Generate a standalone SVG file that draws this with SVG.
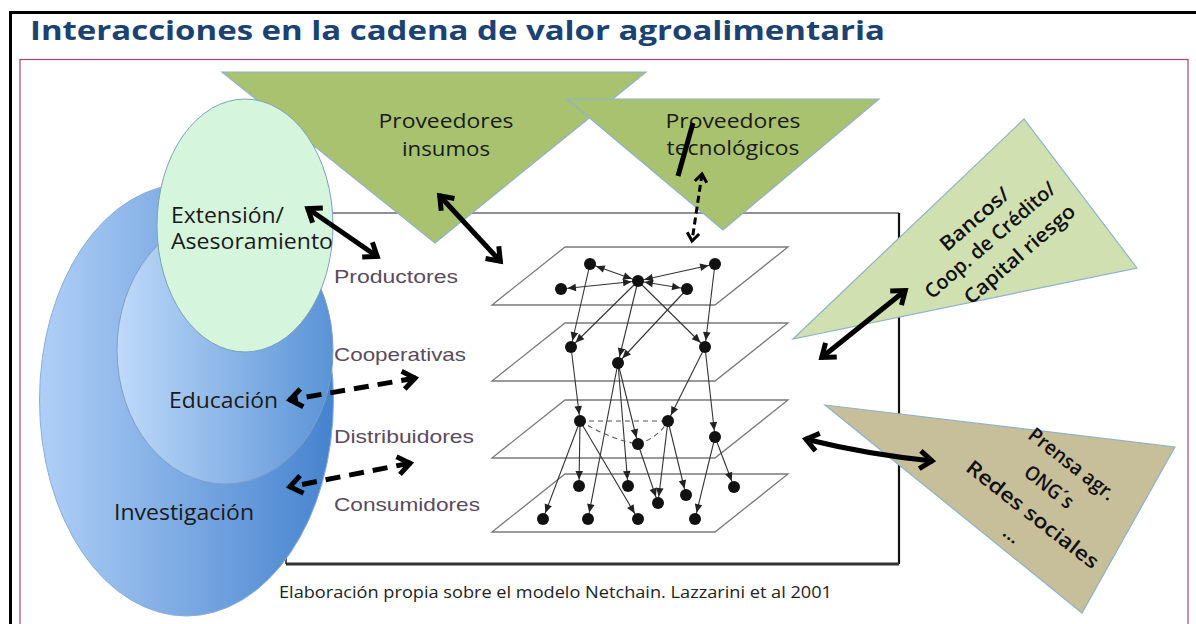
<svg xmlns="http://www.w3.org/2000/svg" width="1196" height="624" viewBox="0 0 1196 624">
<defs>
  <linearGradient id="gBig" x1="0" y1="0" x2="1" y2="0">
    <stop offset="0" stop-color="#b0cff6"/>
    <stop offset="1" stop-color="#4683ce"/>
  </linearGradient>
  <linearGradient id="gMid" x1="0" y1="0" x2="1" y2="0">
    <stop offset="0" stop-color="#bfdaf9"/>
    <stop offset="1" stop-color="#5a93d6"/>
  </linearGradient>
  <marker id="chev" markerUnits="userSpaceOnUse" orient="auto-start-reverse" overflow="visible" markerWidth="20" markerHeight="20" refX="0" refY="0">
    <path d="M-13,-9 L-1,0 L-13,9" fill="none" stroke="#000" stroke-width="5" stroke-dasharray="none"/>
  </marker>
  <marker id="chevs" markerUnits="userSpaceOnUse" orient="auto-start-reverse" overflow="visible" markerWidth="12" markerHeight="12" refX="0" refY="0">
    <path d="M-8,-6 L0,0 L-8,6" fill="none" stroke="#000" stroke-width="3" stroke-dasharray="none"/>
  </marker>
  <marker id="ah" markerUnits="userSpaceOnUse" orient="auto-start-reverse" overflow="visible" markerWidth="10" markerHeight="10" refX="0" refY="0">
    <path d="M-15,-3.8 L-6.5,0 L-15,3.8 z" fill="#222" stroke="none"/>
  </marker>
</defs>
<style>
  .ttl{font-family:"Open Sans","Liberation Sans",sans-serif;font-weight:700;font-size:27px;fill:#1c4272}
  .cal{font-family:"Open Sans","Liberation Sans",sans-serif;font-size:21px;fill:#1a1a1a}
  .calb{font-family:"Open Sans","Liberation Sans",sans-serif;font-size:20px;font-weight:600;fill:#111}
  .lvl{font-family:"Liberation Sans",Arial,sans-serif;font-size:18.5px;fill:#5b4a5d}
  .src{font-family:"Open Sans","Liberation Sans",sans-serif;font-size:16px;fill:#222}
  .tri{stroke:#8fb2c9;stroke-width:1.2}
  .plane{fill:none;stroke:#7a7a7a;stroke-width:1.3}
  .e{fill:none;stroke:#333;stroke-width:1.1}
  .e1{marker-end:url(#ah)}
  .e2{marker-start:url(#ah);marker-end:url(#ah)}
  .dash{fill:none;stroke:#555;stroke-width:1.1;stroke-dasharray:5 4}
  .nd{fill:#111}
  .big{fill:none;stroke:#000;stroke-width:5;marker-start:url(#chev);marker-end:url(#chev)}
  .bigd{fill:none;stroke:#000;stroke-width:5;stroke-dasharray:15 9;marker-start:url(#chev);marker-end:url(#chev)}
</style>

<rect x="0" y="0" width="1196" height="624" fill="#ffffff"/>

<g id="frame">
  <path d="M10.5,624 V12.5 H1196" fill="none" stroke="#000" stroke-width="3"/>
  <rect x="20" y="59.5" width="1168" height="580" fill="none" stroke="#a0457e" stroke-width="1.2"/>
</g>

<g id="title">
  <text class="ttl" x="30" y="40" textLength="855" lengthAdjust="spacingAndGlyphs">Interacciones en la cadena de valor agroalimentaria</text>
</g>

<g id="netchain-frame">
  <path d="M286,213 H899" fill="none" stroke="#222" stroke-width="1.2"/>
  <path d="M899,213 V564" fill="none" stroke="#111" stroke-width="2.2"/>
  <path d="M286,564 H899" fill="none" stroke="#333" stroke-width="3"/>
  <path d="M286,213 V564" fill="none" stroke="#222" stroke-width="1.5"/>
</g>

<g id="netchain">
  <polygon class="plane" points="565,247 788,247 715,305 492,305"/>
  <polygon class="plane" points="565,323 788,323 715,381 492,381"/>
  <polygon class="plane" points="565,400 788,400 715,458 492,458"/>
  <polygon class="plane" points="565,474 788,474 715,532 492,532"/>

  <g id="net-edges">
    <line class="e e2" x1="590" y1="264" x2="638" y2="281"/>
    <line class="e e2" x1="715" y1="264" x2="638" y2="281"/>
    <line class="e e2" x1="561" y1="289" x2="638" y2="281"/>
    <line class="e e2" x1="687" y1="289" x2="638" y2="281"/>

    <line class="e e1" x1="590" y1="264" x2="571" y2="347"/>
    <line class="e e1" x1="638" y1="281" x2="571" y2="347"/>
    <line class="e e1" x1="638" y1="281" x2="618" y2="363"/>
    <line class="e e1" x1="687" y1="289" x2="618" y2="363"/>
    <line class="e e1" x1="638" y1="281" x2="705" y2="347"/>
    <line class="e e1" x1="715" y1="264" x2="705" y2="347"/>

    <line class="e e1" x1="571" y1="347" x2="580" y2="421"/>
    <line class="e e1" x1="705" y1="347" x2="668" y2="421"/>
    <line class="e e1" x1="705" y1="347" x2="715" y2="437"/>
    <line class="e e1" x1="618" y1="363" x2="638" y2="444"/>
    <line class="e e1" x1="618" y1="363" x2="628" y2="486"/>
    <line class="e e1" x1="618" y1="363" x2="588" y2="519"/>

    <line class="e e1" x1="580" y1="421" x2="579" y2="486"/>
    <line class="e e1" x1="580" y1="421" x2="543" y2="519"/>
    <line class="e e1" x1="580" y1="421" x2="638" y2="519"/>
    <line class="e e1" x1="638" y1="444" x2="658" y2="503"/>
    <line class="e e1" x1="668" y1="421" x2="658" y2="503"/>
    <line class="e e1" x1="668" y1="421" x2="686" y2="495"/>
    <line class="e e1" x1="715" y1="437" x2="734" y2="487"/>
    <line class="e e1" x1="715" y1="437" x2="695" y2="519"/>

    <line class="dash" x1="580" y1="421" x2="668" y2="421"/>
    <path class="dash" d="M580,421 Q612,440 638,444"/>
    <path class="dash" d="M638,444 Q658,438 668,421"/>
  </g>

  <g id="net-nodes">
    <circle class="nd" cx="590" cy="264" r="6"/>
    <circle class="nd" cx="715" cy="264" r="6"/>
    <circle class="nd" cx="638" cy="281" r="6"/>
    <circle class="nd" cx="561" cy="289" r="6"/>
    <circle class="nd" cx="687" cy="289" r="6"/>
    <circle class="nd" cx="571" cy="347" r="6"/>
    <circle class="nd" cx="618" cy="363" r="6"/>
    <circle class="nd" cx="705" cy="347" r="6"/>
    <circle class="nd" cx="580" cy="421" r="6"/>
    <circle class="nd" cx="668" cy="421" r="6"/>
    <circle class="nd" cx="638" cy="444" r="6"/>
    <circle class="nd" cx="715" cy="437" r="6"/>
    <circle class="nd" cx="579" cy="486" r="6"/>
    <circle class="nd" cx="628" cy="486" r="6"/>
    <circle class="nd" cx="658" cy="503" r="6"/>
    <circle class="nd" cx="686" cy="495" r="6"/>
    <circle class="nd" cx="734" cy="487" r="6"/>
    <circle class="nd" cx="543" cy="519" r="6"/>
    <circle class="nd" cx="588" cy="519" r="6"/>
    <circle class="nd" cx="638" cy="519" r="6"/>
    <circle class="nd" cx="695" cy="519" r="6"/>
  </g>
</g>

<g id="level-labels">
  <text class="lvl" x="334" y="283" textLength="124" lengthAdjust="spacingAndGlyphs">Productores</text>
  <text class="lvl" x="334" y="361" textLength="132" lengthAdjust="spacingAndGlyphs">Cooperativas</text>
  <text class="lvl" x="334" y="443" textLength="140" lengthAdjust="spacingAndGlyphs">Distribuidores</text>
  <text class="lvl" x="334" y="511" textLength="146" lengthAdjust="spacingAndGlyphs">Consumidores</text>
</g>

<g id="proveedores-insumos">
  <polygon class="tri" points="222,72 646,72 435,243" fill="#a8c26f"/>
  <text class="cal" x="446" y="128" text-anchor="middle" textLength="135" lengthAdjust="spacingAndGlyphs" style="font-size:20px">Proveedores</text>
  <text class="cal" x="446" y="156" text-anchor="middle" textLength="88" lengthAdjust="spacingAndGlyphs" style="font-size:20px">insumos</text>
</g>

<g id="proveedores-tecnologicos">
  <polygon class="tri" points="567,99 879,99 723,230" fill="#a8c26f"/>
  <text class="cal" x="733" y="128" text-anchor="middle" textLength="135" lengthAdjust="spacingAndGlyphs" style="font-size:20px">Proveedores</text>
  <text class="cal" x="733" y="155" text-anchor="middle" textLength="133" lengthAdjust="spacingAndGlyphs" style="font-size:20px">tecnológicos</text>
</g>

<g id="investigacion">
  <ellipse cx="186.5" cy="400" rx="147" ry="216" fill="url(#gBig)" stroke="#8aaedb" stroke-width="1"/>
  <text class="cal" x="114" y="520" textLength="140" lengthAdjust="spacingAndGlyphs" fill="#16202e">Investigación</text>
</g>

<g id="educacion">
  <ellipse cx="225" cy="350" rx="108" ry="134" fill="url(#gMid)" stroke="#7f9fc8" stroke-width="1"/>
  <text class="cal" x="169" y="408" textLength="109" lengthAdjust="spacingAndGlyphs">Educación</text>
</g>

<g id="extension">
  <ellipse cx="245" cy="225.5" rx="88" ry="126.5" fill="#d5f5dc" stroke="#7aa3b9" stroke-width="1"/>
  <text class="cal" x="171" y="223" textLength="113" lengthAdjust="spacingAndGlyphs">Extensión/</text>
  <text class="cal" x="171" y="249" textLength="162" lengthAdjust="spacingAndGlyphs">Asesoramiento</text>
</g>

<g id="bancos">
  <polygon class="tri" points="793,339 1024,119 1137,268" fill="#d0e0b1"/>
  <g transform="translate(990,240) rotate(-41)">
    <text class="calb" x="2" y="-26" dy="0.35em" text-anchor="middle" textLength="85" lengthAdjust="spacingAndGlyphs">Bancos/</text>
    <text class="calb" x="0" y="0" dy="0.35em" text-anchor="middle" textLength="166" lengthAdjust="spacingAndGlyphs">Coop. de Crédito/</text>
    <text class="calb" x="13" y="30" dy="0.35em" text-anchor="middle" textLength="140" lengthAdjust="spacingAndGlyphs">Capital riesgo</text>
  </g>
</g>

<g id="prensa">
  <polygon class="tri" points="825,405 1175,447 1082,613" fill="#c7be9a"/>
  <g transform="translate(1072,464) rotate(38)">
    <text class="calb" x="0" y="0" dy="0.35em" text-anchor="middle" textLength="104" lengthAdjust="spacingAndGlyphs">Prensa agr.</text>
    <text class="calb" x="-4" y="32" dy="0.35em" text-anchor="middle" textLength="57" lengthAdjust="spacingAndGlyphs">ONG´s</text>
    <text class="calb" x="0" y="64" dy="0.35em" text-anchor="middle" textLength="162" lengthAdjust="spacingAndGlyphs">Redes sociales</text>
    <text class="calb" x="-4" y="92" dy="0.35em" text-anchor="middle">…</text>
  </g>
</g>

<g id="source">
  <text class="src" x="279" y="598" textLength="553" lengthAdjust="spacingAndGlyphs">Elaboración propia sobre el modelo Netchain. Lazzarini et al 2001</text>
</g>

<g id="connectors">
  <line class="big" x1="307" y1="208" x2="378" y2="257"/>
  <line class="big" x1="439" y1="195" x2="501" y2="262"/>
  <line class="big" stroke-width="4" x1="906" y1="290" x2="821" y2="358"/>
  <path class="big" stroke-width="4.5" d="M805,439 Q870,455 933,461"/>
  <line class="bigd" x1="416" y1="378" x2="289" y2="400"/>
  <line class="bigd" x1="411" y1="463" x2="289" y2="487"/>
  <line x1="693" y1="123" x2="678" y2="176" stroke="#000" stroke-width="5"/>
  <line x1="702" y1="174" x2="692" y2="241" stroke="#000" stroke-width="3" stroke-dasharray="7 4" marker-start="url(#chevs)" marker-end="url(#chevs)"/>
</g>
</svg>
